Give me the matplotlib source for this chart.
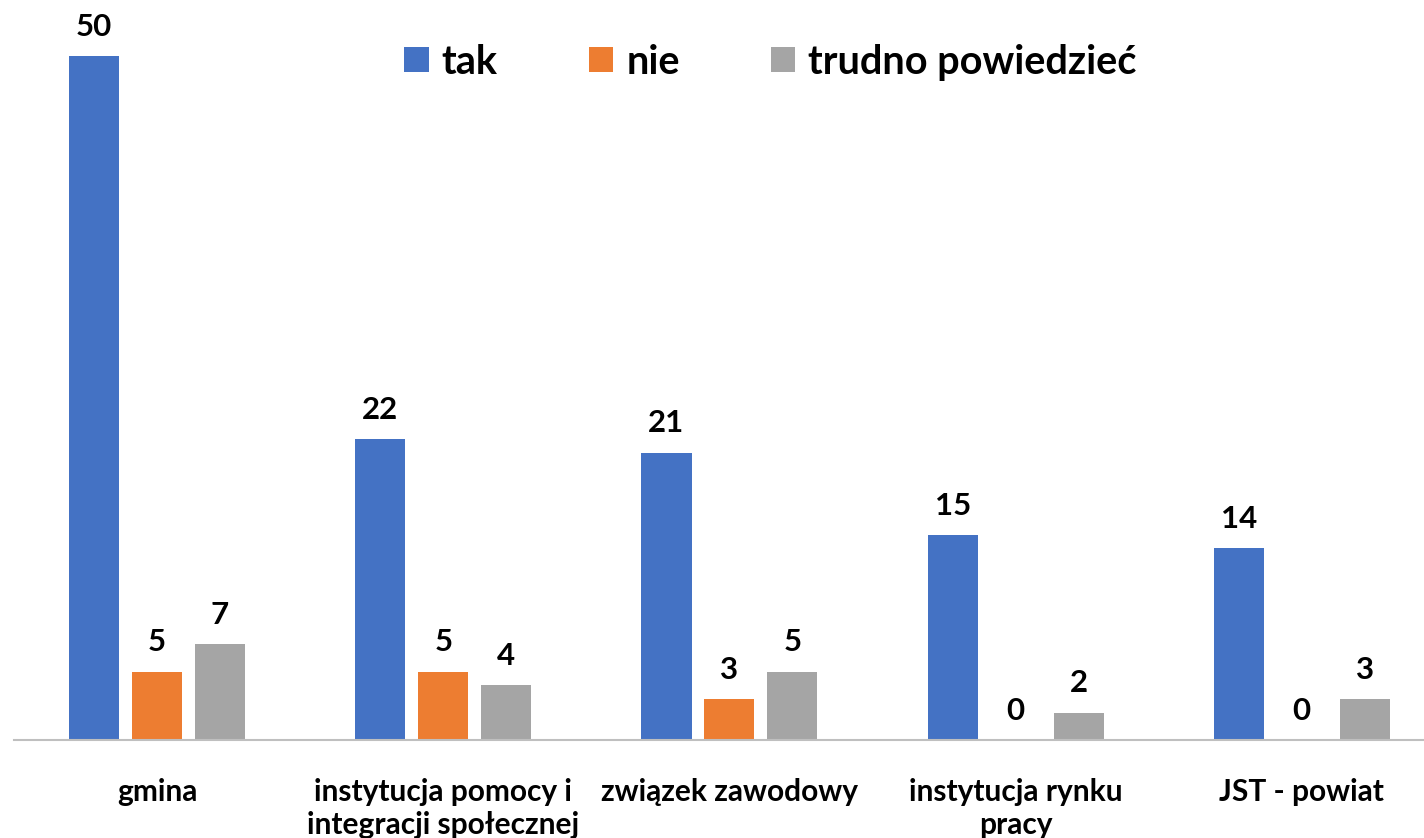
import matplotlib.pyplot as plt
import numpy as np

categories = ["gmina", "instytucja pomocy i\nintegracji społecznej", "związek zawodowy",
              "instytucja rynku\npracy", "JST - powiat"]
tak = [50, 22, 21, 15, 14]
nie = [5, 5, 3, 0, 0]
trudno = [7, 4, 5, 2, 3]
series_names = ["tak", "nie", "trudno powiedzieć"]
colors = ["#4472C4", "#ED7D31", "#A5A5A5"]

plt.rcParams['font.family'] = ['Lato', 'DejaVu Sans']
plt.rcParams['font.weight'] = 'bold'

W, H = 1424, 838
fig = plt.figure(figsize=(W / 100, H / 100), dpi=100)
ax = fig.add_axes([14 / W, 98 / H, 1 - 14 / W, 684 / H])

x = np.arange(len(categories))
width = 0.175
step = 0.22
for k, (vals, name, col) in enumerate(zip([tak, nie, trudno], series_names, colors)):
    bars = ax.bar(x + (k - 1) * step, vals, width, color=col, label=name)
    for b, v in zip(bars, vals):
        ax.annotate(str(v), (b.get_x() + b.get_width() / 2, v), xytext=(0, 11),
                    textcoords='offset points', ha='center', va='bottom',
                    fontsize=22.5, fontweight='bold', color='black', annotation_clip=False)

ax.set_xlim(-0.5, 4.427)
ax.set_ylim(0, 50)
ax.set_xticks(x)
ax.set_xticklabels(categories, fontsize=21.5, fontweight='bold', linespacing=1.25)
ax.tick_params(axis='x', length=0, pad=27)
ax.set_yticks([])
for s in ['left', 'right', 'top']:
    ax.spines[s].set_visible(False)
ax.spines['bottom'].set_color('#BFBFBF')
ax.spines['bottom'].set_linewidth(1.5)

fig.legend(loc='center', bbox_to_anchor=(0.541, 0.926), ncol=3, frameon=False,
           prop={'size': 28.5, 'weight': 'bold'}, handlelength=0.62, handleheight=0.62,
           handletextpad=0.33, columnspacing=2.3)

fig.savefig("out.png", dpi=100)
